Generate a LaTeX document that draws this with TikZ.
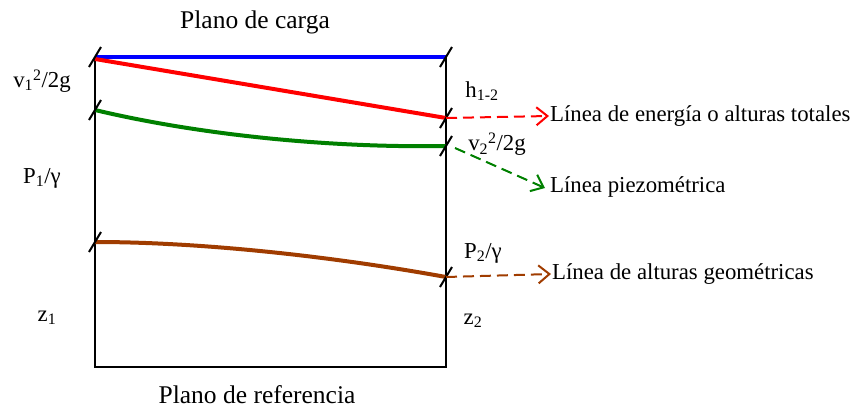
\documentclass[tikz,border=0pt]{standalone}
\usepackage{fontspec}
\setmainfont{Liberation Serif}
\usetikzlibrary{arrows.meta}
\definecolor{brownline}{RGB}{160,60,0}
\definecolor{greenline}{RGB}{0,128,0}
\tikzset{
  tickmark/.style={line width=2pt},
  headline/.style={line width=4pt},
  callout/.style={dash pattern=on 11pt off 6pt,line width=2pt,-{Straight Barb[length=11pt,width=18pt,line width=2pt]}},
  lbl/.style={inner sep=1pt},
  plano/.style={inner sep=1pt,font=\fontsize{25.5}{28}\selectfont}
}
\newcommand{\tickat}[1]{\draw[tickmark] (#1) +(-6,10) -- +(6,-10);}

\begin{document}
\begin{tikzpicture}[x=1pt,y=-1pt,font=\fontsize{22.8}{26}\selectfont]
  \useasboundingbox (0,0) rectangle (855,408);
  % datum points
  \coordinate (lt) at (95,57);
  \coordinate (le) at (95,59);
  \coordinate (lp) at (95,110);
  \coordinate (lz) at (95,242);
  \coordinate (lb) at (95,367);
  \coordinate (rt) at (446,57);
  \coordinate (re) at (446,118);
  \coordinate (rp) at (446,146);
  \coordinate (rz) at (446,277);
  \coordinate (rb) at (446,367);
  % frame
  \draw[line width=2pt] (lt) -- (lb) -- (rb) -- (rt);
  % lines
  \draw[headline,blue] (lt) -- (rt);
  \draw[headline,red] (le) -- (re);
  \draw[headline,greenline] (lp) .. controls (200,135) and (330,148) .. (rp);
  \draw[headline,brownline] (lz) .. controls (200,242) and (330,256) .. (rz);
  % ticks
  \tickat{lt}
  \tickat{lp}
  \tickat{lz}
  \tickat{rt}
  \tickat{re}
  \tickat{rp}
  \tickat{rz}
  % labels
  \node[plano] (carga) at (255,22) {Plano de carga};
  \node[plano] (ref) at (257,395) {Plano de referencia};
  \node[lbl] (v1) at (42,81) {v\textsubscript{1}\textsuperscript{2}/2g};
  \node[lbl] (p1) at (42,178) {P\textsubscript{1}/γ};
  \node[lbl] (z1) at (47,318) {z\textsubscript{1}};
  \node[lbl] (h12) at (482,91) {h\textsubscript{1-2}};
  \node[lbl] (v2) at (497,144) {v\textsubscript{2}\textsuperscript{2}/2g};
  \node[lbl] (p2) at (483,253) {P\textsubscript{2}/γ};
  \node[lbl] (z2) at (473,321) {z\textsubscript{2}};
  \node[lbl,anchor=west] (energia) at (549,116) {Línea de energía o alturas totales};
  \node[lbl,anchor=west] (piezo) at (549,187) {Línea piezométrica};
  \node[lbl,anchor=west] (geom) at (551,274) {Línea de alturas geométricas};
  % callouts
  \draw[callout,red] (re) -- (energia.west);
  \draw[callout,greenline] (455,148) -- (545,188);
  \draw[callout,brownline] (rz) -- (geom.west);
\end{tikzpicture}
\end{document}
